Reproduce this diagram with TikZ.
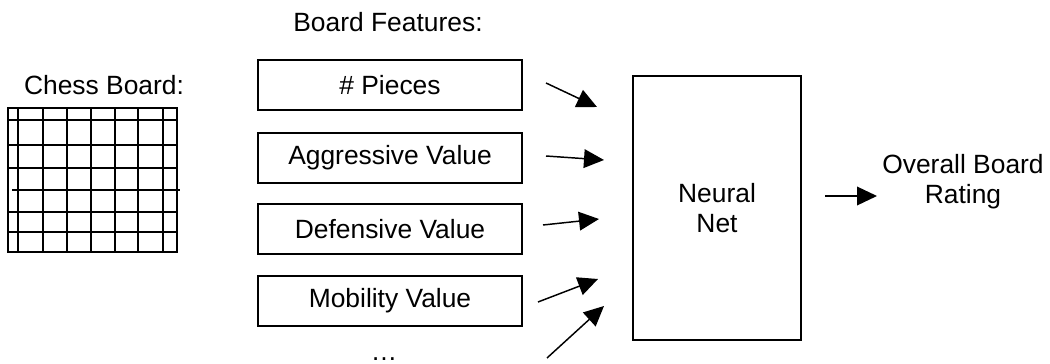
\documentclass[tikz,border=0pt]{standalone}
\usepackage{fontspec}
\setmainfont{Liberation Sans}
\usetikzlibrary{arrows.meta}

\tikzset{
  featbox/.style={draw, line width=1.3pt, minimum width=198pt, minimum height=37.5pt, inner sep=0.75pt},
  netarrow/.style={line width=1.1pt, -{Triangle[length=15pt,width=14pt]}},
}

\begin{document}
\begin{tikzpicture}[x=0.75pt,y=0.75pt,yscale=-1,xscale=1,font=\fontsize{19.8}{22.5}\selectfont]
\useasboundingbox (0,0) rectangle (1050,364);
% chess board
\draw[line width=1.3pt] (8,108) rectangle (177,252);
\foreach \x in {18,43,67,91,115,138,163} \draw[line width=1.3pt] (\x,108) -- (\x,252);
\foreach \y/\a/\b in {120/8/178,145/8/177,168/8/177,190/12/180,212/8/178,232/7/176} \draw[line width=1.3pt] (\a,\y) -- (\b,\y);
\node (boardlbl) at (104,85) {Chess Board:};
% features
\node (featlbl) at (388,22) {Board Features:};
\node[featbox] (pieces) at (390,85) {\# Pieces};
\node[featbox] (aggr) at (390,158) {Aggressive Value};
\node[featbox] (defn) at (390,229) {Defensive Value};
\node[featbox] (mobil) at (390,301) {Mobility Value};
\node[anchor=base, inner sep=0pt, text depth=0pt] (more) at (384,360) {…};
% net
\node[draw, line width=1.3pt, minimum width=126pt, minimum height=198pt, align=center] (net) at (717,208) {Neural\\Net};
\node[align=center] (rating) at (963,182) {Overall Board\\Rating};
% arrows
\coordinate (a1) at (546,83);  \coordinate (b1) at (597,107);
\coordinate (a2) at (546,156); \coordinate (b2) at (604,160);
\coordinate (a3) at (543,225); \coordinate (b3) at (599,219);
\coordinate (a4) at (538,302); \coordinate (b4) at (598,279);
\coordinate (a5) at (547,358); \coordinate (b5) at (604,306);
\coordinate (o1) at (825,196); \coordinate (o2) at (877,196);
\foreach \i in {1,...,5} \draw[netarrow] (a\i) -- (b\i);
\draw[netarrow] (o1) -- (o2);
\end{tikzpicture}
\end{document}
